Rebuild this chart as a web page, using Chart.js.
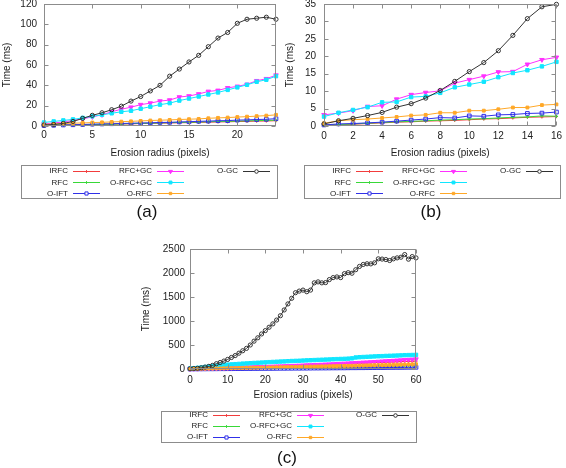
<!DOCTYPE html>
<html><head><meta charset="utf-8">
<script src="https://cdn.jsdelivr.net/npm/chart.js@4.4.0/dist/chart.umd.min.js"></script>
<style>
html,body{margin:0;padding:0;background:#fff;width:566px;height:468px;overflow:hidden;position:relative}
canvas{position:absolute;display:block}
</style></head><body>
<canvas id="ca" width="283" height="232" style="left:0px;top:-10px;width:283px;height:232px"></canvas>
<canvas id="cb" width="283" height="232" style="left:283px;top:-10px;width:283px;height:232px"></canvas>
<canvas id="cc" width="294" height="248" style="left:136px;top:220px;width:294px;height:248px"></canvas>
<script>
// ---------- DATA ----------
const seriesNames = ['IRFC','RFC','O-IFT','RFC+GC','O-RFC+GC','O-RFC','O-GC'];

// (a)
const aX = [0,1,2,3,4,5,6,7,8,9,10,11,12,13,14,15,16,17,18,19,20,21,22,23,24];
const aIRFC   = [0.3,0.5,0.8,0.9,1.2,1.3,1.6,1.7,2.0,2.1,2.4,2.5,2.8,2.9,3.2,3.3,3.6,3.7,4.0,4.1,4.4,4.5,4.8,4.9,5.2];
const aRFC    = [0.4,0.6,0.8,1.0,1.2,1.5,1.7,1.9,2.1,2.4,2.6,2.8,3.0,3.3,3.5,3.7,3.9,4.2,4.4,4.6,4.8,5.1,5.3,5.5,5.7];
const aOIFT   = [0.5,0.7,1.0,1.2,1.5,1.8,2.0,2.2,2.5,2.7,3.0,3.1,3.5,3.6,4.0,4.2,4.6,4.8,5.2,5.3,5.8,6.0,6.4,6.6,7.2];
const aRFCGC  = [2.0,3.0,4.0,5.5,7.0,9.0,11.0,14.0,16.5,18.5,21.0,22.5,24.5,25.5,28.5,29.5,31.5,34.0,35.0,37.5,39.0,41.0,44.5,46.5,50.0];
const aORFCGC = [3.5,4.5,5.5,6.5,8.0,9.5,11.0,12.5,14.0,15.0,17.0,19.0,21.0,22.5,25.0,27.0,29.0,31.0,33.0,35.5,38.0,40.5,43.5,45.5,49.0];
const aORFC   = [1.5,2.0,2.4,2.8,3.0,3.4,3.6,4.0,4.3,4.6,5.0,5.4,5.7,6.0,6.4,6.7,7.0,7.6,8.0,8.3,8.8,9.2,9.7,10.2,11.0];
const aOGC    = [1.0,1.5,2.5,4.5,7.5,10.5,13.0,16.0,19.5,24.5,29.0,34.5,40.0,49.0,56.0,63.0,69.5,78.0,86.5,92.0,101.0,105.0,106.0,107.0,105.0];
const aXTicks = [0,5,10,15,20];
const aYTicks = [0,20,40,60,80,100,120];

// (b)
const bX = [0,1,2,3,4,5,6,7,8,9,10,11,12,13,14,15,16];
const bIRFC   = [0.2,0.4,0.5,0.7,0.9,1.1,1.2,1.4,1.5,1.6,1.8,2.0,2.1,2.3,2.5,2.6,2.7];
const bRFC    = [0.2,0.4,0.6,0.8,1.0,1.2,1.3,1.5,1.7,1.8,2.0,2.1,2.3,2.5,2.6,2.9,2.8];
const bOIFT   = [0.3,0.6,0.7,0.9,1.1,1.4,1.7,2.0,2.4,2.3,2.9,2.8,3.2,3.3,3.6,3.7,4.0];
const bRFCGC  = [3.2,3.7,4.4,5.6,5.8,7.7,9.0,9.6,10.1,12.3,13.3,14.3,15.5,15.6,17.7,19.0,19.7];
const bORFCGC = [2.7,3.8,4.6,5.4,6.8,6.9,8.3,8.5,9.5,11.1,11.9,12.7,14.0,15.2,16.0,17.1,18.4];
const bORFC   = [0.8,1.5,1.8,2.0,2.3,2.6,3.0,3.2,3.8,3.8,4.4,4.4,4.8,5.3,5.3,6.0,6.2];
const bOGC    = [0.6,1.5,2.2,3.0,3.9,5.4,6.4,8.0,10.2,12.8,15.6,18.2,21.6,26.0,30.8,34.2,34.9];
const bXTicks = [0,2,4,6,8,10,12,14,16];
const bYTicks = [0,5,10,15,20,25,30,35];

// (c)
const cX = [0,1,2,3,4,5,6,7,8,9,10,11,12,13,14,15,16,17,18,19,20,21,22,23,24,25,26,27,28,29,30,
            31,32,33,34,35,36,37,38,39,40,41,42,43,44,45,46,47,48,49,50,51,52,53,54,55,56,57,58,59,60];
const cIRFC   = [2,4,6,8,10,12,14,16,18,20,23,25,27,30,32,35,37,40,42,45,47,50,52,55,58,60,63,66,68,71,
                 74,77,80,83,86,89,92,95,98,101,104,107,110,113,116,119,122,126,129,132,135,138,141,144,147,150,153,156,159,162,165];
const cRFC    = [1,2,3,4,5,6,7,8,9,10,11,12,13,14,15,16,17,18,19,20,21,22,23,25,26,27,28,29,30,31,
                 33,34,35,36,37,39,40,41,42,44,45,46,48,49,50,52,53,54,56,57,58,60,61,63,64,65,67,68,69,71,72];
const cOIFT   = [0,1,1,2,2,3,3,4,5,5,6,6,7,7,8,9,9,10,10,11,11,12,12,13,14,14,15,15,16,16,
                 17,17,18,19,19,20,20,21,22,22,23,23,24,25,25,26,26,27,28,28,29,29,30,31,31,32,32,33,34,34,35];
const cRFCGC  = [4,6,8,10,12,14,16,18,21,23,25,27,29,31,34,36,38,40,43,45,48,50,53,56,58,61,64,67,70,73,
                 76,80,83,86,90,93,97,100,104,108,112,116,120,124,128,132,137,141,146,150,155,160,165,170,175,180,185,190,195,200,205];
const cORFCGC = [10,16,24,32,42,52,60,68,76,84,90,96,101,106,112,116,121,126,130,134,138,143,147,151,155,158,162,166,169,172,
                 176,180,183,186,190,193,196,199,203,206,209,212,216,222,240,246,250,254,258,262,266,268,272,275,278,281,284,288,290,292,295];
const cORFC   = [1,3,4,6,7,9,10,12,13,15,16,18,19,21,22,24,25,27,28,30,31,33,34,36,37,39,40,42,43,45,
                 47,48,50,51,53,55,56,58,60,61,63,65,66,68,70,72,73,75,77,79,80,82,84,86,88,90,92,94,96,98,100];
const cOGC    = [5,10,15,25,40,55,75,110,135,165,200,240,280,330,380,430,500,580,650,730,
                 800,870,940,1020,1110,1230,1356,1473,1589,1623,1644,1610,1644,1795,1815,1795,1800,1863,1904,1918,
                 1904,1986,2007,1995,2068,2137,2178,2192,2190,2212,2295,2290,2280,2260,2295,2315,2329,2384,2288,2342,2315];
const cXTicks = [0,10,20,30,40,50,60];
const cYTicks = [0,500,1000,1500,2000,2500];

// ---------- STYLES ----------
const STYLES = [
  {color:'#f23c3c', pointStyle:'cross', radius:1.6, fill:false},
  {color:'#38d838', pointStyle:'cross', radius:1.6, fill:false},
  {color:'#3030e8', pointStyle:'rect',  radius:2.6, fill:false},
  {color:'#ff30ff', pointStyle:'triangle', rotation:180, radius:2.6, fill:true},
  {color:'#10e6ff', pointStyle:'rect',  radius:2.4, fill:true},
  {color:'#ffa828', pointStyle:'rect',  radius:2.0, fill:true},
  {color:'#333333', pointStyle:'circle',radius:2.1, fill:false}
];
const FONT = '"Liberation Sans", Arial, Helvetica, sans-serif';

function buildDatasets(xs, list){
  return list.map((ys,i)=>{
    const s = STYLES[i];
    return {
      label: seriesNames[i],
      data: xs.map((x,j)=>({x:x, y:ys[j]})),
      borderColor: s.color,
      backgroundColor: s.fill ? s.color : 'rgba(255,255,255,0)',
      pointBackgroundColor: s.fill ? s.color : 'rgba(255,255,255,0)',
      pointBorderColor: s.color,
      pointStyle: s.pointStyle,
      pointRotation: s.rotation || 0,
      pointRadius: s.radius,
      pointBorderWidth: 1,
      borderWidth: 1,
      tension: 0,
      clip: false,
      order: 6 - i
    };
  });
}

const framePlugin = {
  id: 'frame',
  afterDatasetsDraw(chart){
    const {ctx, chartArea:a} = chart;
    const xs = chart.scales.x, ys = chart.scales.y;
    ctx.save();
    ctx.strokeStyle = '#8c8c8c'; ctx.lineWidth = 1;
    const L = Math.round(a.left)+0.5, R = Math.round(a.right)-0.5, T = Math.round(a.top)+0.5, B = Math.round(a.bottom)-0.5;
    ctx.strokeRect(L, T, R-L, B-T);
    ctx.beginPath();
    xs.ticks.forEach(t=>{
      const p = Math.round(xs.getPixelForValue(t.value))+0.5;
      ctx.moveTo(p,B); ctx.lineTo(p,B-4);
      ctx.moveTo(p,T); ctx.lineTo(p,T+4);
    });
    ys.ticks.forEach(t=>{
      const p = Math.round(ys.getPixelForValue(t.value))+0.5;
      ctx.moveTo(L,p); ctx.lineTo(L+4,p);
      ctx.moveTo(R,p); ctx.lineTo(R-4,p);
    });
    ctx.stroke();
    ctx.restore();
  }
};

const legendPlugin = {
  id: 'figLegend',
  afterDraw(chart, args, o){
    const ctx = chart.ctx;
    ctx.save();
    ctx.translate(-o.ox, -o.oy);
    const [bl,bt,bw,bh] = o.box;
    ctx.strokeStyle = '#8c8c8c'; ctx.lineWidth = 1;
    ctx.strokeRect(bl+0.5, bt+0.5, bw, bh);
    ctx.font = '8px ' + FONT;
    ctx.textBaseline = 'middle';
    chart.data.datasets.forEach((ds,i)=>{
      const col = Math.floor(i/3), row = i%3;
      const ex = bl + o.colEnds[col], y = o.rows[row];
      ctx.fillStyle = '#222'; ctx.textAlign = 'right';
      ctx.fillText(ds.label, ex, y);
      const sx = ex + 5, len = 27;
      ctx.strokeStyle = ds.borderColor; ctx.lineWidth = 1;
      ctx.beginPath(); ctx.moveTo(sx, Math.round(y)+0.5); ctx.lineTo(sx+len, Math.round(y)+0.5); ctx.stroke();
      ctx.fillStyle = STYLES[i].fill ? ds.borderColor : '#ffffff';
      Chart.helpers.drawPoint(ctx, {pointStyle: ds.pointStyle, rotation: ds.pointRotation, radius: ds.pointRadius*0.85, borderWidth: 1}, sx+len/2, Math.round(y)+0.5);
    });
    ctx.fillStyle = '#111';
    ctx.font = '17px ' + FONT;
    ctx.textAlign = 'center'; ctx.textBaseline = 'middle';
    ctx.fillText(o.caption, o.capX, o.capY);
    ctx.restore();
  }
};

function makeChart(id, cfg){
  const c = cfg.canvas, a = cfg.area;
  const yW = a[0] - c[0];
  const padTop = a[1] - c[1];
  const padRight = c[0] + c[2] - a[2];
  const padBottom = c[1] + c[3] - a[3] - cfg.xH;
  return new Chart(document.getElementById(id), {
    type: 'line',
    data: { datasets: buildDatasets(cfg.xs, cfg.series) },
    options: {
      responsive: false, animation: false, events: [],
      layout: { padding: {left:0, top:padTop, right:padRight, bottom:padBottom} },
      plugins: {
        legend: {display:false}, tooltip: {enabled:false},
        figLegend: Object.assign({ox:c[0], oy:c[1]}, cfg.legend)
      },
      scales: {
        x: {
          type: 'linear', min: cfg.xTicks[0], max: cfg.xMax,
          afterFit: s => { s.height = cfg.xH; },
          afterBuildTicks: s => { s.ticks = cfg.xTicks.map(v=>({value:v})); },
          grid: {display:false, drawTicks:false},
          border: {display:false},
          ticks: {font:{family:FONT, size:10}, color:'#222', padding:cfg.xPad, maxRotation:0, autoSkip:false, callback: v => String(v)},
          title: {display:true, text:'Erosion radius (pixels)', font:{family:FONT, size:10}, color:'#222', padding:{top:0,bottom:1}}
        },
        y: {
          type: 'linear', min: cfg.yTicks[0], max: cfg.yTicks[cfg.yTicks.length-1],
          afterFit: s => { s.width = yW; },
          afterBuildTicks: s => { s.ticks = cfg.yTicks.map(v=>({value:v})); },
          grid: {display:false, drawTicks:false},
          border: {display:false},
          ticks: {font:{family:FONT, size:10}, color:'#222', padding:cfg.yPad, autoSkip:false, callback: v => String(v)},
          title: {display:true, text:'Time (ms)', font:{family:FONT, size:10}, color:'#222', padding:{top:cfg.yTitlePad,bottom:0}}
        }
      }
    },
    plugins: [framePlugin, legendPlugin]
  });
}

makeChart('ca', {
  canvas:[0,-10,283,232], area:[44,4,276,126], xH:34, xPad:3, yPad:7, yTitlePad:1,
  xs:aX, series:[aIRFC,aRFC,aOIFT,aRFCGC,aORFCGC,aORFC,aOGC], xMax:24, xTicks:aXTicks, yTicks:aYTicks,
  legend:{box:[21,165,256,33], rows:[171,182.3,193.3], colEnds:[47,131,217], caption:'(a)', capX:147, capY:212}
});
makeChart('cb', {
  canvas:[283,-10,283,232], area:[324,4,560,126], xH:34, xPad:4, yPad:8, yTitlePad:1,
  xs:bX, series:[bIRFC,bRFC,bOIFT,bRFCGC,bORFCGC,bORFC,bOGC], xMax:16, xTicks:bXTicks, yTicks:bYTicks,
  legend:{box:[304,165,256,33], rows:[171,182.3,193.3], colEnds:[47,131,217], caption:'(b)', capX:431, capY:212}
});
makeChart('cc', {
  canvas:[136,220,294,248], area:[190,249,416,369], xH:33, xPad:5, yPad:5, yTitlePad:4,
  xs:cX, series:[cIRFC,cRFC,cOIFT,cRFCGC,cORFCGC,cORFC,cOGC], xMax:60, xTicks:cXTicks, yTicks:cYTicks,
  legend:{box:[161,411,255,31], rows:[414.7,426,437], colEnds:[47,131,216], caption:'(c)', capX:287, capY:458}
});
</script>
</body></html>
